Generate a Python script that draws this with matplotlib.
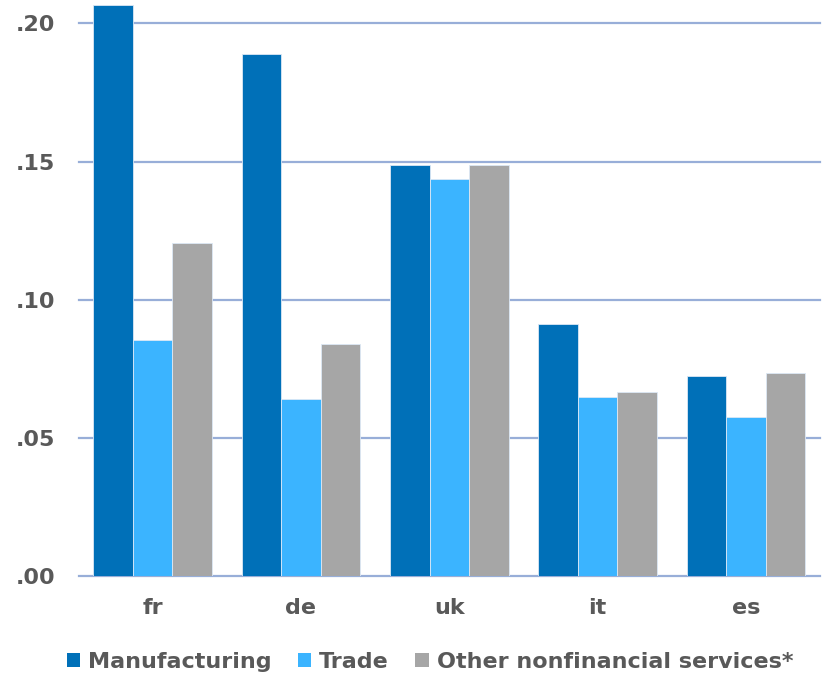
import numpy as np
import matplotlib.pyplot as plt
from matplotlib.patches import Patch
from matplotlib.ticker import FuncFormatter, MultipleLocator

# Data by country
countries = ['fr', 'de', 'uk', 'it', 'es']
manufacturing = [0.2067, 0.1888, 0.1486, 0.0913, 0.0725]
trade = [0.0855, 0.0641, 0.1438, 0.0649, 0.0576]
other_services = [0.1207, 0.0841, 0.1489, 0.0667, 0.0736]

series_names = ['Manufacturing', 'Trade', 'Other nonfinancial services*']
colors = ['#0070B8', '#3BB4FF', '#A6A6A6']
text_color = '#595959'
grid_color = '#98AED8'

plt.rcParams['font.family'] = 'DejaVu Sans'
plt.rcParams['font.weight'] = 'bold'

fig = plt.figure(figsize=(8.25, 6.76), dpi=100)
ax = fig.add_axes([0.0952, 0.148, 0.8988, 0.852])

x = np.arange(len(countries))
width = 0.8 / 3
for i, (vals, name, c) in enumerate(zip([manufacturing, trade, other_services], series_names, colors)):
    ax.bar(x + (i - 1) * width, vals, width, color=c, label=name,
           edgecolor='#DCE8F5', linewidth=0.6, zorder=3)

ax.set_xlim(-0.5, len(countries) - 0.5)
ax.set_ylim(0, 0.2085)
ax.yaxis.set_major_locator(MultipleLocator(0.05))
ax.yaxis.set_major_formatter(FuncFormatter(lambda v, pos: f'{v:.2f}'.lstrip('0')))
ax.set_xticks(x)
ax.set_xticklabels(countries)

ax.grid(axis='y', color=grid_color, linewidth=1.6, zorder=0)
ax.set_axisbelow(True)
# keep the zero line whole at the bottom edge
for gl in ax.get_ygridlines():
    gl.set_clip_on(False)
for s in ax.spines.values():
    s.set_visible(False)
ax.tick_params(axis='both', length=0, labelsize=16, labelcolor=text_color)
ax.tick_params(axis='y', pad=17)
ax.tick_params(axis='x', pad=16)

handles = [Patch(facecolor=c, edgecolor='none') for c in colors]
leg = fig.legend(handles, series_names, loc='center', bbox_to_anchor=(0.521, 0.021),
                 ncol=3, frameon=False, fontsize=16, handlelength=0.6, handleheight=0.6,
                 handletextpad=0.35, columnspacing=1.2, borderpad=0, borderaxespad=0)
for t in leg.get_texts():
    t.set_color(text_color)

fig.savefig('out.png', dpi=100)
